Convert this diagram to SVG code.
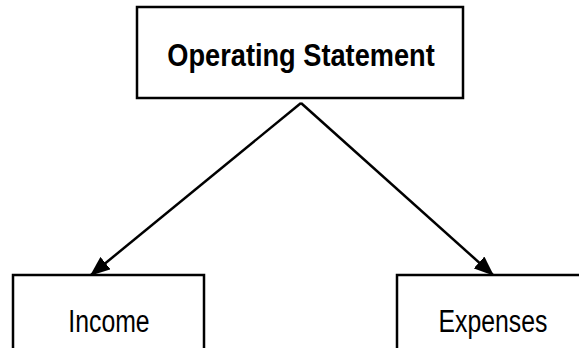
<svg xmlns="http://www.w3.org/2000/svg" width="579" height="348" viewBox="0 0 579 348">
<style>
.box{fill:#fff;stroke:#000;stroke-width:2.5}
.t{font-family:"Liberation Sans",Arial,sans-serif;font-size:31px;fill:#000;text-anchor:middle}
.b{font-weight:bold;font-size:32px}
.c{stroke:#000;stroke-width:2.5;fill:none}
</style>
<defs>
<marker id="ah" markerWidth="8" markerHeight="6.4" refX="7.5" refY="3.2" orient="auto" markerUnits="strokeWidth">
<path d="M0,0 L8,3.2 L0,6.4 z" fill="#000"/>
</marker>
</defs>
<rect width="579" height="348" fill="#fff"/>
<g id="connectors">
<line class="c" x1="301" y1="103" x2="91" y2="275" marker-end="url(#ah)"/>
<line class="c" x1="301" y1="103" x2="493" y2="275" marker-end="url(#ah)"/>
</g>
<g id="node-operating">
<rect class="box" x="137" y="7" width="326" height="91"/>
<text class="t b" transform="translate(301 66) scale(0.85 1)">Operating Statement</text>
</g>
<g id="node-income">
<rect class="box" x="13" y="275" width="191" height="90"/>
<text class="t" transform="translate(109 332) scale(0.8 1)">Income</text>
</g>
<g id="node-expenses">
<rect class="box" x="397" y="275" width="200" height="90"/>
<text class="t" transform="translate(493 332) scale(0.8 1)">Expenses</text>
</g>
</svg>
